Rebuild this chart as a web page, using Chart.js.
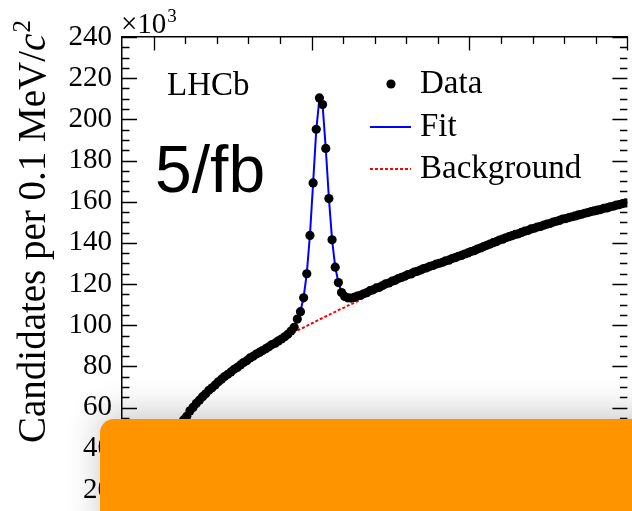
<!DOCTYPE html>
<html>
<head>
<meta charset="utf-8">
<script src="https://cdn.jsdelivr.net/npm/chart.js@4.4.1/dist/chart.umd.min.js"></script>
<style>
  html, body { margin: 0; padding: 0; background: #fff; }
  #wrap { width: 632px; height: 511px; }
</style>
</head>
<body>
<div id="wrap"><canvas id="massChart" width="632" height="511"></canvas></div>
<script>
// delta-m spectrum, 0.1 MeV bins, counts in units of 10^3
const binStart = 139.65;
const binWidth = 0.1;
const candidates = [
  4, 12, 19, 24.5, 29, 33, 36.8, 40, 43, 45.6,
  48, 50.2, 52.2, 54, 55.8, 58.4, 60.1, 62.0, 63.6, 65.3,
  66.7, 68.4, 69.6, 71.0, 72.5, 73.8, 75.1, 76.2, 77.3, 78.6,
  79.5, 80.7, 81.9, 82.8, 84.1, 84.9, 86.0, 86.8, 87.7, 88.6,
  89.5, 90.6, 91.3, 92.4, 93.3, 94.4, 95.6, 97.2, 99.0, 103.0,
  106.6, 113.3, 125.0, 143.6, 169.1, 195.2, 210.4, 207.2, 185.9, 161.5,
  141.5, 128.2, 120.7, 115.9, 114.0, 113.3, 113.2, 113.5, 114.2, 114.5,
  115.3, 115.8, 116.8, 117.2, 118.1, 118.4, 119.3, 120.1, 120.5, 121.4,
  121.8, 122.7, 123.2, 123.8, 124.6, 124.9, 125.8, 126.2, 126.8, 127.5,
  127.9, 128.6, 129.0, 129.7, 130.1, 130.6, 131.3, 131.6, 132.4, 132.8,
  133.5, 133.9, 134.6, 135.1, 135.8, 136.2, 137.0, 137.5, 138.2, 138.8,
  139.4, 140.1, 140.6, 141.4, 141.8, 142.5, 143.0, 143.5, 144.1, 144.4,
  145.1, 145.7, 146.0, 146.8, 147.1, 147.7, 148.0, 148.6, 149.1, 149.4,
  150.1, 150.5, 150.9, 151.6, 151.8, 152.3, 152.7, 153.1, 153.6, 153.9,
  154.4, 154.7, 155.2, 155.5, 155.9, 156.2, 156.8, 157.0, 157.5, 157.8,
  158.3, 158.6, 159.1, 159.4
];

const fitStart = 144.05;
const fitValues = [
  93.3, 94.4, 95.6, 97.2, 99.1, 102.7, 106.8, 113.6, 125.2, 143.8,
  169.0, 194.9, 210.2, 207.0, 186.0, 161.7, 141.6, 128.4, 120.8, 116.4,
  114.4, 113.6, 113.4, 113.6, 114.0, 114.6
];

const bkgStart = 143.85;
const bkgValues = [
  92.0, 92.8, 93.5, 94.3, 95.0, 95.8, 96.6, 97.4, 98.2, 98.9,
  99.7, 100.5, 101.2, 102.0, 102.8, 103.5, 104.3, 105.0, 105.8, 106.5,
  107.3, 108.0, 108.7, 109.5, 110.2, 110.9, 111.6, 112.3
];

const yTickLabels = [20, 40, 60, 80, 100, 120, 140, 160, 180, 200, 220, 240];
const xMajorTicks = [140, 145, 150, 155];

function toPoints(start, vals) {
  return vals.map((v, i) => ({ x: +(start + i * binWidth).toFixed(2), y: v }));
}

const serif = '"Liberation Serif", "Times New Roman", serif';

// inward ticks, labels, legend and the orange patch
const decorations = {
  id: 'decorations',
  afterDraw(chart) {
    const ctx = chart.ctx;
    const xs = chart.scales.x, ys = chart.scales.y;
    const { left, right, top } = chart.chartArea;

    ctx.save();
    ctx.strokeStyle = '#000';
    ctx.lineWidth = 1.3;
    ctx.beginPath();
    for (let v = 15; v <= 240; v += 5) {
      const py = Math.round(ys.getPixelForValue(v)) + 0.5;
      const len = v % 20 === 0 ? 15 : 7.5;
      ctx.moveTo(left, py); ctx.lineTo(left + len, py);
      ctx.moveTo(right, py); ctx.lineTo(right - len, py);
    }
    for (let m = 140; m <= 155; m++) {
      const px = Math.round(xs.getPixelForValue(m)) + 0.5;
      const len = xMajorTicks.includes(m) ? 13.5 : 7;
      ctx.moveTo(px, top); ctx.lineTo(px, top + len);
    }
    ctx.stroke();

    ctx.fillStyle = '#000';
    ctx.textBaseline = 'alphabetic';
    ctx.textAlign = 'left';

    // x10^3 multiplier
    ctx.font = '29px ' + serif;
    ctx.fillText('\u00d710', 121, 33);
    const w10 = ctx.measureText('\u00d710').width;
    ctx.font = '19px ' + serif;
    ctx.fillText('3', 121 + w10 + 1, 22);

    // y title
    ctx.save();
    ctx.translate(45, 443);
    ctx.rotate(-Math.PI / 2);
    ctx.font = '39px ' + serif;
    const main = 'Candidates per 0.1 MeV/';
    ctx.fillText(main, 0, 0);
    let off = ctx.measureText(main).width;
    ctx.font = 'italic 39px ' + serif;
    ctx.fillText('c', off, 0);
    off += ctx.measureText('c').width + 1;
    ctx.font = '25px ' + serif;
    ctx.fillText('2', off, -15);
    ctx.restore();

    ctx.font = '33px ' + serif;
    ctx.fillText('LHCb', 167, 95);

    ctx.font = '66px "Liberation Sans", Arial, sans-serif';
    ctx.fillText('5/fb', 155, 192);

    // legend
    const ds = chart.data.datasets;
    ctx.font = '33px ' + serif;
    ctx.beginPath();
    ctx.arc(391, 84, 4.6, 0, Math.PI * 2);
    ctx.fill();
    ctx.fillText(ds[0].label, 420, 93);

    ctx.strokeStyle = ds[1].borderColor;
    ctx.lineWidth = 2;
    ctx.beginPath(); ctx.moveTo(370, 127); ctx.lineTo(411, 127); ctx.stroke();
    ctx.fillText(ds[1].label, 420, 136);

    ctx.strokeStyle = ds[2].borderColor;
    ctx.setLineDash(ds[2].borderDash);
    ctx.beginPath(); ctx.moveTo(370, 169); ctx.lineTo(411, 169); ctx.stroke();
    ctx.setLineDash([]);
    ctx.fillText(ds[2].label, 420, 178);

    // orange patch over the lower part
    ctx.shadowColor = 'rgba(0,0,0,0.22)';
    ctx.shadowBlur = 35;
    ctx.shadowOffsetY = -6;
    ctx.fillStyle = '#fd9400';
    ctx.beginPath();
    ctx.roundRect(100, 419, 560, 120, 14);
    ctx.fill();
    ctx.restore();
  }
};

const ctx = document.getElementById('massChart').getContext('2d');
const massChart = new Chart(ctx, {
  type: 'scatter',
  data: {
    datasets: [
      {
        label: 'Data',
        data: toPoints(binStart, candidates),
        pointRadius: 4.6,
        pointBackgroundColor: '#000',
        pointBorderWidth: 0,
        showLine: false,
        order: 0
      },
      {
        label: 'Fit',
        data: toPoints(fitStart, fitValues),
        showLine: true,
        borderColor: '#0000ff',
        borderWidth: 2,
        pointRadius: 0,
        tension: 0,
        order: 1
      },
      {
        label: 'Background',
        data: toPoints(bkgStart, bkgValues),
        showLine: true,
        borderColor: '#ff0000',
        borderWidth: 2,
        borderDash: [3, 2],
        pointRadius: 0,
        tension: 0,
        order: 2
      }
    ]
  },
  options: {
    responsive: false,
    devicePixelRatio: 1,
    animation: false,
    layout: { padding: 0 },
    plugins: {
      legend: { display: false },
      tooltip: { enabled: false }
    },
    scales: {
      x: {
        type: 'linear',
        position: 'top',
        min: 139,
        max: 155,
        ticks: { display: false },
        grid: { display: false, drawTicks: false },
        border: { display: true, color: '#000', width: 1.5 },
        afterFit(scale) {
          scale.height = 37;
          scale.paddingLeft = 0;
          scale.paddingRight = 0;
        }
      },
      y: {
        type: 'linear',
        min: 12,
        max: 240,
        afterBuildTicks(scale) {
          scale.ticks = yTickLabels.map(v => ({ value: v }));
        },
        ticks: {
          font: { family: serif, size: 29 },
          color: '#000',
          padding: 10
        },
        grid: { display: false, drawTicks: false },
        border: { display: true, color: '#000', width: 1.5 },
        afterFit(scale) {
          scale.width = 122;
          scale.paddingTop = 0;
          scale.paddingBottom = 0;
        }
      }
    }
  },
  plugins: [decorations]
});
</script>
</body>
</html>
